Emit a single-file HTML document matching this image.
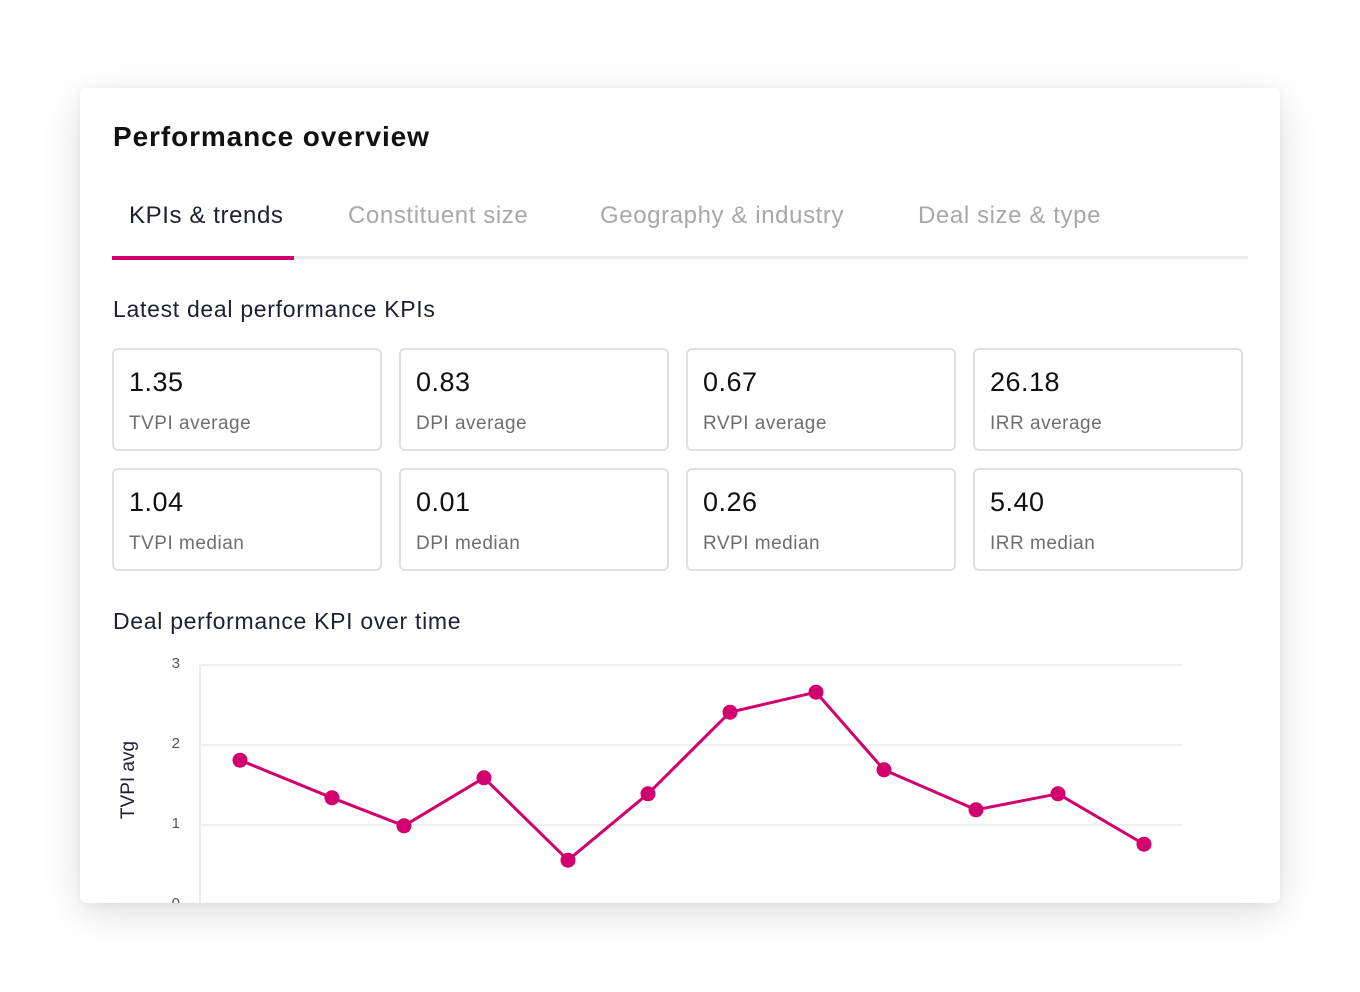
<!DOCTYPE html>
<html><head><meta charset="utf-8"><style>
html,body{margin:0;padding:0;background:#fff;width:1360px;height:992px;overflow:hidden;font-family:"Liberation Sans",sans-serif;}
.card{position:absolute;left:80px;top:88px;width:1200px;height:815px;background:#fff;border-radius:6px;overflow:hidden;box-shadow:0 10px 40px rgba(0,0,0,0.13),0 2px 8px rgba(0,0,0,0.05);}
.title{position:absolute;left:33px;top:33px;font-size:28px;font-weight:bold;color:#111;letter-spacing:0.9px;}
.tab{position:absolute;top:114px;font-size:24px;color:#a8a8a8;letter-spacing:0.6px;}
.tab.active{color:#1c2030;}
.tabline{position:absolute;left:32px;top:168px;width:1136px;height:3px;background:#efedeb;}
.tabsel{position:absolute;left:32px;top:168px;width:182px;height:4px;background:#d1006e;}
.h2{position:absolute;left:33px;font-size:23px;color:#1c2030;letter-spacing:0.7px;}
.kpi{position:absolute;width:270px;height:103px;border:2px solid #e2e0de;border-radius:6px;box-sizing:border-box;}
.kpi .v{position:absolute;left:15px;top:17px;font-size:27px;color:#111;letter-spacing:0.5px;}
.kpi .l{position:absolute;left:15px;top:63px;font-size:19px;color:#6e6e6e;letter-spacing:0.5px;}
</style></head><body>
<div class="card">
<div class="title">Performance overview</div>
<div class="tab active" style="left:49px">KPIs &amp; trends</div>
<div class="tab" style="left:268px">Constituent size</div>
<div class="tab" style="left:520px">Geography &amp; industry</div>
<div class="tab" style="left:838px">Deal size &amp; type</div>
<div class="tabline"></div>
<div class="tabsel"></div>
<div class="h2" style="top:208px">Latest deal performance KPIs</div>
<div class="kpi" style="left:32px;top:260px"><div class="v">1.35</div><div class="l">TVPI average</div></div>
<div class="kpi" style="left:319px;top:260px"><div class="v">0.83</div><div class="l">DPI average</div></div>
<div class="kpi" style="left:606px;top:260px"><div class="v">0.67</div><div class="l">RVPI average</div></div>
<div class="kpi" style="left:893px;top:260px"><div class="v">26.18</div><div class="l">IRR average</div></div>
<div class="kpi" style="left:32px;top:380px"><div class="v">1.04</div><div class="l">TVPI median</div></div>
<div class="kpi" style="left:319px;top:380px"><div class="v">0.01</div><div class="l">DPI median</div></div>
<div class="kpi" style="left:606px;top:380px"><div class="v">0.26</div><div class="l">RVPI median</div></div>
<div class="kpi" style="left:893px;top:380px"><div class="v">5.40</div><div class="l">IRR median</div></div>
<div class="h2" style="top:520px">Deal performance KPI over time</div>
<svg id="chart" width="1200" height="260" style="position:absolute;left:0;top:555px"></svg>
</div>
<script>
var periods=[0,11.5,20.5,30.5,41,51,61.25,72,80.5,92,102.25,113];
var tvpiValues=[1.81,1.34,0.99,1.59,0.56,1.39,2.41,2.66,1.69,1.19,1.39,0.76];
var yTicks=[0,1,2,3];
var ns="http://www.w3.org/2000/svg";
var svg=document.getElementById('chart');
function sx(t){return 160+t*8;}
function sy(v){return 262-v*80;}
function mk(tag,attrs){var e=document.createElementNS(ns,tag);for(var k in attrs)e.setAttribute(k,attrs[k]);svg.appendChild(e);return e;}
yTicks.forEach(function(v){
  var g=mk('line',{x1:120,x2:1102,y1:sy(v),y2:sy(v),stroke:'#ececec','stroke-width':1.5});
  
  
  var t=mk('text',{x:100,y:sy(v)+3,'text-anchor':'end','font-size':15,fill:'#555','font-family':'Liberation Sans, sans-serif'});
  t.textContent=String(v);
  
  
});
var ax=mk('line',{x1:120,x2:120,y1:sy(3),y2:sy(0),stroke:'#ececec','stroke-width':2});


var yt=mk('text',{x:0,y:0,transform:'translate(54,137) rotate(-90)','text-anchor':'middle','font-size':19,fill:'#1c2030','font-family':'Liberation Sans, sans-serif'});
yt.textContent='TVPI avg';


var pts=periods.map(function(t,i){return sx(t)+','+sy(tvpiValues[i]);}).join(' ');
var pl=mk('polyline',{points:pts,fill:'none',stroke:'#d1006e','stroke-width':3,'stroke-linejoin':'round'});


periods.forEach(function(t,i){
  var c=mk('circle',{cx:sx(t),cy:sy(tvpiValues[i]),r:7.5,fill:'#d1006e'});
  
  
});
</script>
</body></html>
